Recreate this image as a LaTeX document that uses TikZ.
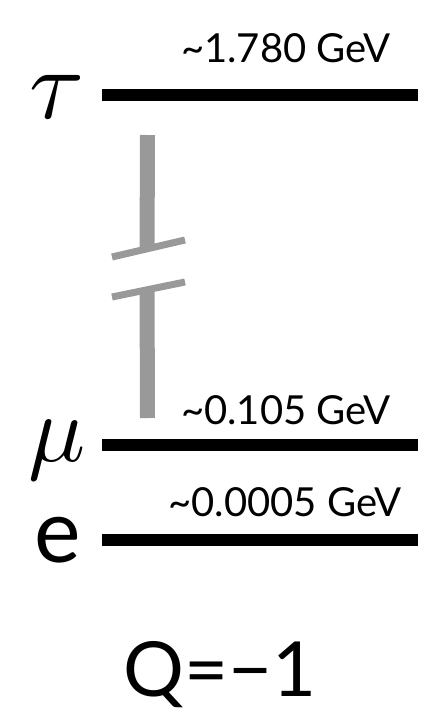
\documentclass[tikz,border=0pt]{standalone}
\usepackage{fontspec}
\setmainfont{Lato}
\usepackage{tikz}
\usetikzlibrary{calc}

\tikzset{
  level/.style={line width=12pt},
  gapbar/.style={line width=15pt, draw=black!40},
  gapcut/.style={line width=7pt, draw=black!40},
  mass/.style={font=\fontsize{40}{44}\selectfont, inner sep=0pt},
  sym/.style={inner sep=0pt}
}

\begin{document}
\begin{tikzpicture}[x=1pt,y=-1pt]
        \useasboundingbox (0,0) rectangle (424,718);

        % Niveaux
        \coordinate (tauL) at (102,95);
        \coordinate (tauR) at (418,95);
        \coordinate (muL) at (102,445);
        \coordinate (muR) at (418,445);
        \coordinate (eL) at (102,540);
        \coordinate (eR) at (418,540);

        \draw[level] (tauL) -- (tauR);
        \draw[level] (muL) -- (muR);
        \draw[level] (eL) -- (eR);

        % Barre grise interrompue
        \coordinate (barT) at (147.5,135);
        \coordinate (barB) at (147.5,418);
        \coordinate (cutA1) at (112,257);
        \coordinate (cutA2) at (185,240);
        \coordinate (cutB1) at (112,297);
        \coordinate (cutB2) at (185,282);

        \draw[gapbar] (barT) -- ($(cutA1)!0.48!(cutA2)$);
        \draw[gapbar] ($(cutB1)!0.48!(cutB2)$) -- (barB);
        \draw[gapcut] (cutA1) -- (cutA2);
        \draw[gapcut] (cutB1) -- (cutB2);

        \node[mass] (mtau) at (286,48) {\textasciitilde 1.780 GeV};
        \node[mass] (mmu) at (286,410) {\textasciitilde 0.105 GeV};
        \node[mass] (me) at (285,502) {\textasciitilde 0.0005 GeV};

        \node[sym] (tau) at (57,97) {\scalebox{10}{$\tau$}};
        \node[sym] (mu) at (57,450) {\scalebox{9.5}{$\mu$}};
        \node[sym, font=\fontsize{88}{90}\selectfont] (e) at (58,540) {e};

        \node[sym, font=\fontsize{76}{80}\selectfont] (Q) at (220,675) {Q=−1};
    \end{tikzpicture}
\end{document}
